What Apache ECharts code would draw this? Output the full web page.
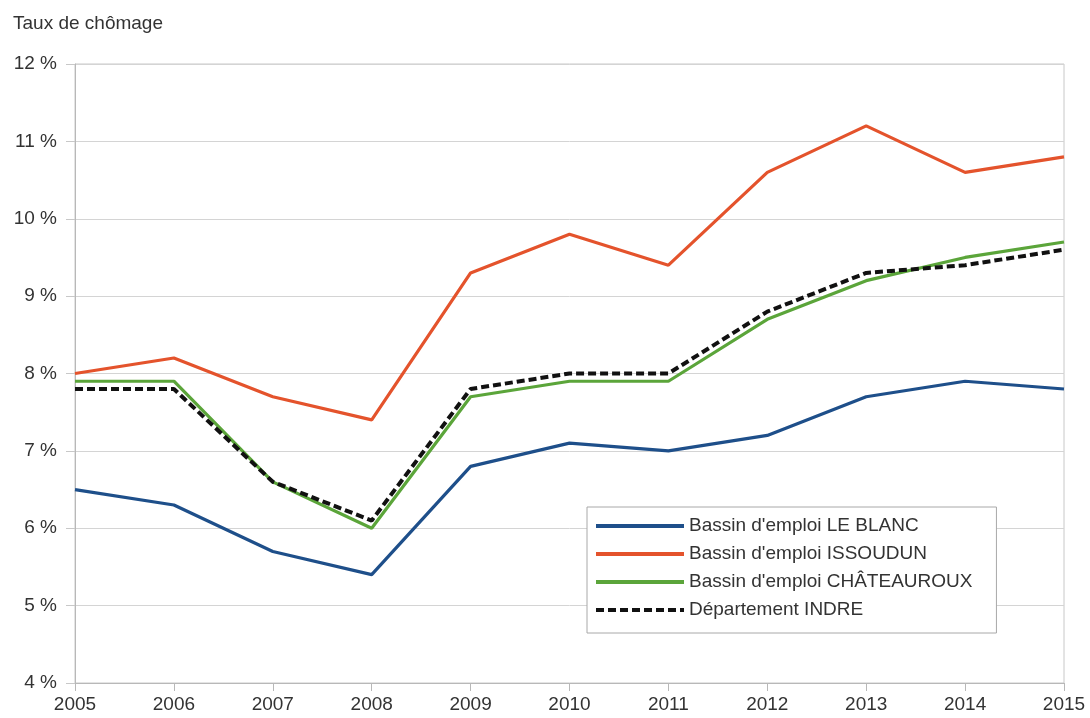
<!DOCTYPE html>
<html>
<head>
<meta charset="utf-8">
<script src="https://cdn.jsdelivr.net/npm/echarts@6/dist/echarts.min.js"></script>
<style>
  html, body { margin: 0; padding: 0; background: #fff; }
  #chart { width: 1090px; height: 718px; }
</style>
</head>
<body>
<div id="chart"></div>
<script>
// Unemployment rate (%) by employment area, Indre department
const years = ['2005', '2006', '2007', '2008', '2009', '2010', '2011', '2012', '2013', '2014', '2015'];
const leBlanc = [6.5, 6.3, 5.7, 5.4, 6.8, 7.1, 7.0, 7.2, 7.7, 7.9, 7.8];
const issoudun = [8.0, 8.2, 7.7, 7.4, 9.3, 9.8, 9.4, 10.6, 11.2, 10.6, 10.8];
const chateauroux = [7.9, 7.9, 6.6, 6.0, 7.7, 7.9, 7.9, 8.7, 9.2, 9.5, 9.7];
const indre = [7.8, 7.8, 6.6, 6.1, 7.8, 8.0, 8.0, 8.8, 9.3, 9.4, 9.6];

const FONT = '"Liberation Sans", Arial, sans-serif';
const TEXT = '#333333';

const chart = echarts.init(document.getElementById('chart'), null, { renderer: 'canvas' });

function lineSeries(name, data, color, extra) {
  return Object.assign({
    name: name,
    type: 'line',
    data: data,
    symbol: 'none',
    smooth: false,
    lineStyle: { color: color, width: 3.2 },
    itemStyle: { color: color },
    emphasis: { disabled: true },
    animation: false
  }, extra || {});
}

chart.setOption({
  backgroundColor: '#ffffff',
  animation: false,
  title: {
    text: 'Taux de chômage',
    left: 8,
    top: 9,
    textStyle: { fontFamily: FONT, fontSize: 19, fontWeight: 'normal', color: TEXT }
  },
  grid: {
    left: 75, right: 26, top: 64, bottom: 35,
    show: true, borderColor: '#c8c8c8', borderWidth: 1
  },
  legend: {
    orient: 'vertical',
    left: 587,
    top: 507,
    padding: [9, 24, 13, 7],
    itemGap: 8,
    itemWidth: 88,
    itemHeight: 14,
    backgroundColor: '#ffffff',
    borderColor: '#a8a8a8',
    borderWidth: 1,
    borderRadius: 0,
    selectedMode: false,
    // line-only keys: hide the marker drawn in the middle of each key
    itemStyle: { opacity: 0 },
    lineStyle: { width: 4 },
    textStyle: { fontFamily: FONT, fontSize: 19, color: TEXT, lineHeight: 20 },
    data: ["Bassin d'emploi LE BLANC", "Bassin d'emploi ISSOUDUN", "Bassin d'emploi CHÂTEAUROUX", 'Département INDRE']
  },
  xAxis: {
    type: 'category',
    data: years,
    boundaryGap: false,
    axisLine: { show: true, lineStyle: { color: '#b8b8b8', width: 1 } },
    axisTick: { show: true, length: 8, alignWithLabel: true, lineStyle: { color: '#b8b8b8' } },
    axisLabel: { fontFamily: FONT, fontSize: 19, color: TEXT, margin: 12 },
    splitLine: { show: false }
  },
  yAxis: {
    type: 'value',
    min: 4,
    max: 12,
    interval: 1,
    axisLine: { show: true, lineStyle: { color: '#b8b8b8', width: 1 } },
    axisTick: { show: true, length: 9, lineStyle: { color: '#c8c8c8' } },
    axisLabel: { fontFamily: FONT, fontSize: 19, color: TEXT, margin: 18, formatter: '{value} %' },
    splitLine: { show: true, lineStyle: { color: '#d4d4d4', width: 1 } }
  },
  series: [
    lineSeries("Bassin d'emploi LE BLANC", leBlanc, '#1e4f8a'),
    lineSeries("Bassin d'emploi ISSOUDUN", issoudun, '#e4532c'),
    lineSeries("Bassin d'emploi CHÂTEAUROUX", chateauroux, '#5ba53a'),
    lineSeries('Département INDRE', indre, '#111111', {
      lineStyle: { color: '#111111', width: 4, type: [8, 4] },
      z: 3
    })
  ]
});
</script>
</body>
</html>
